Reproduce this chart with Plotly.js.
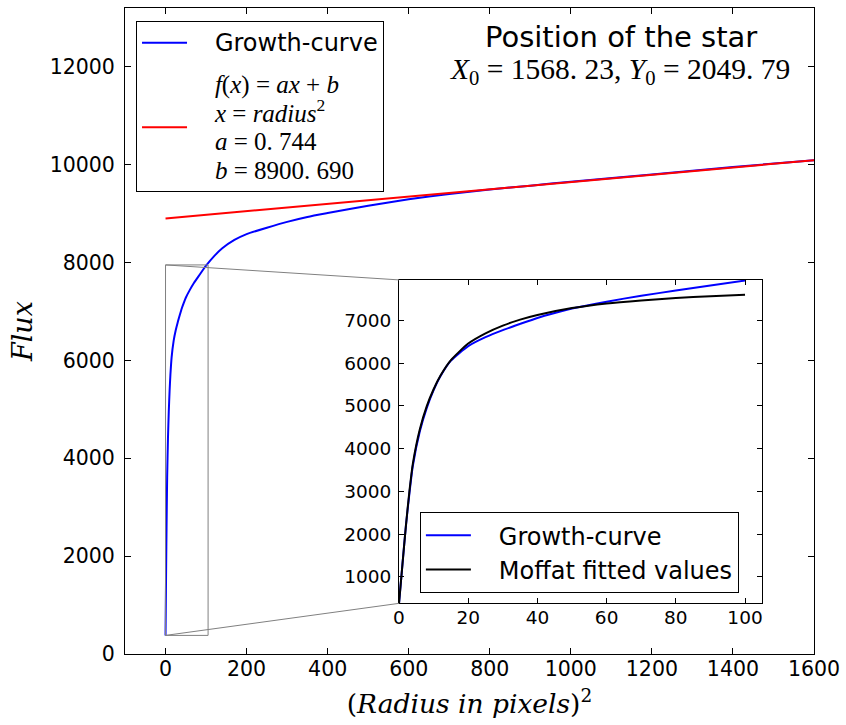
<!DOCTYPE html>
<html>
<head>
<meta charset="utf-8">
<script src="https://cdn.plot.ly/plotly-3.0.1.min.js"></script>
<style>html,body{margin:0;padding:0;background:#fff;}#chart{width:846px;height:725px;}</style>
</head>
<body>
<div id="chart"></div>
<script>
// ---- data ----
const growthX = [0, 1, 2, 3, 4, 6, 8, 10, 12, 15, 20, 25, 30, 35, 40, 45, 50, 60, 70, 80, 90, 100,
                 120, 140, 170, 200, 250, 300, 350, 400, 500, 600, 700, 800, 900, 1000, 1200, 1400, 1600];
const growthY = [380, 1300, 2200, 2950, 3600, 4400, 4950, 5370, 5700, 6060, 6400, 6610, 6775, 6920, 7060, 7175, 7280, 7440, 7580, 7700, 7820, 7935,
                 8130, 8290, 8460, 8580, 8710, 8830, 8930, 9010, 9160, 9290, 9400, 9490, 9570, 9650, 9800, 9950, 10090];
const fitX = [0, 1600];
const fitY = [8900.69, 10091.09];
const moffatX = [0, 1, 2, 3, 4, 6, 8, 10, 12, 15, 20, 25, 30, 35, 40, 50, 60, 70, 80, 90, 100];
const moffatY = [380, 1300, 2200, 3000, 3650, 4450, 4990, 5390, 5710, 6070, 6460, 6700, 6880, 7020, 7130, 7290, 7400, 7470, 7525, 7570, 7605];

const mainXRange = [-100, 1600];
const mainYRange = [0, 13200];
const mainXTicks = [0, 200, 400, 600, 800, 1000, 1200, 1400, 1600];
const mainYTicks = [0, 2000, 4000, 6000, 8000, 10000, 12000];
const mainYTickText = ['0', '2000', '4000', '6000', '8000', '10000', '12000'];
const insetXRange = [0, 105];
const insetYRange = [380, 7950];
const insetXTicks = [0, 20, 40, 60, 80, 100];
const insetYTicks = [1000, 2000, 3000, 4000, 5000, 6000, 7000];

// ---- layout ----
const insetDomX = [0.3977, 0.925];
const insetDomY = [0.0784, 0.5791];
const serif = "'Liberation Serif', 'DejaVu Serif', serif";
const serifWide = "'DejaVu Serif', serif";
const sans = "'DejaVu Sans', sans-serif";

const inset = growthX.map((x, i) => [x, growthY[i]]).filter(p => p[0] <= 100);
const pad = "<span style=\"font-family:'DejaVu Sans';font-size:24px\">&nbsp;&nbsp;&nbsp;</span>";
const m = s => pad + "<span style=\"font-family:'Liberation Serif';font-size:25px\">" + s + "</span>";

const traces = [
  {x: growthX, y: growthY, mode: 'lines', line: {color: '#0000ff', width: 2, shape: 'spline', smoothing: 0.6},
   name: pad + "<span style='font-size:24px'>Growth-curve</span>", xaxis: 'x', yaxis: 'y', legend: 'legend', legendgroup: 'g1'},
  {x: fitX, y: fitY, mode: 'lines', line: {color: '#ff0000', width: 2},
   name: m('<i>f</i>(<i>x</i>) = <i>ax</i> + <i>b</i>') + '<br>' +
         m('<i>x</i> = <i>radius</i><sup>2</sup>') + '<br>' +
         m('<i>a</i> = 0. 744') + '<br>' +
         m('<i>b</i> = 8900. 690'),
   xaxis: 'x', yaxis: 'y', legend: 'legend', legendgroup: 'g2'},
  {x: inset.map(p => p[0]), y: inset.map(p => p[1]), mode: 'lines', line: {color: '#0000ff', width: 2, shape: 'spline', smoothing: 0.6},
   name: pad + 'Growth-curve', xaxis: 'x2', yaxis: 'y2', legend: 'legend2'},
  {x: moffatX, y: moffatY, mode: 'lines', line: {color: '#000000', width: 2, shape: 'spline', smoothing: 0.6},
   name: pad + 'Moffat fitted values', xaxis: 'x2', yaxis: 'y2', legend: 'legend2'}
];

const xp = v => (v - mainXRange[0]) / (mainXRange[1] - mainXRange[0]);
const yp = v => (v - mainYRange[0]) / (mainYRange[1] - mainYRange[0]);

const axBase = {
  showline: true, linecolor: '#000', linewidth: 1, mirror: 'allticks',
  ticks: 'inside', ticklen: 6, tickwidth: 1, tickcolor: '#000',
  showgrid: false, zeroline: false,
  tickfont: {family: sans, size: 20.5, color: '#000'}
};

const layout = {
  width: 846, height: 725,
  margin: {l: 125, r: 32, t: 8, b: 71},
  paper_bgcolor: '#fff', plot_bgcolor: '#fff',
  showlegend: true,
  xaxis: Object.assign({}, axBase, {
    range: mainXRange, tickvals: mainXTicks, ticklabelstandoff: -4,
    title: {text: '(<i>Radius in pixels</i>)<sup>2</sup>', font: {family: serifWide, size: 26.5, color: '#000'}, standoff: 14}
  }),
  yaxis: Object.assign({}, axBase, {
    range: mainYRange, tickvals: mainYTicks, ticktext: mainYTickText, ticklabelstandoff: 5,
    title: {text: '<i>Flux</i>', font: {family: serifWide, size: 27, color: '#000'}, standoff: 9}
  }),
  xaxis2: Object.assign({}, axBase, {
    domain: insetDomX, anchor: 'y2', range: insetXRange, tickvals: insetXTicks, ticklen: 5,
    tickfont: {family: sans, size: 18.5, color: '#000'}, ticklabelstandoff: -3
  }),
  yaxis2: Object.assign({}, axBase, {
    domain: insetDomY, anchor: 'x2', range: insetYRange, tickvals: insetYTicks, ticklen: 5,
    tickfont: {family: sans, size: 18.5, color: '#000'}, ticklabelstandoff: 3
  }),
  legend: {
    x: 0.016, y: 0.98, xanchor: 'left', yanchor: 'top',
    bgcolor: '#fff', bordercolor: '#000', borderwidth: 1, itemwidth: 45,
    font: {family: sans, size: 22, color: '#000'}, tracegroupgap: 10
  },
  legend2: {
    x: 0.428, y: 0.2195, xanchor: 'left', yanchor: 'top',
    bgcolor: '#fff', bordercolor: '#000', borderwidth: 1, itemwidth: 45,
    font: {family: sans, size: 24, color: '#000'}, tracegroupgap: 0
  },
  shapes: [
    {type: 'rect', xref: 'x', yref: 'y', x0: insetXRange[0], x1: insetXRange[1], y0: insetYRange[0], y1: insetYRange[1],
     line: {color: '#808080', width: 1}, layer: 'above'},
    {type: 'line', xref: 'paper', yref: 'paper', x0: xp(insetXRange[0]), y0: yp(insetYRange[1]), x1: insetDomX[0], y1: insetDomY[1],
     line: {color: '#808080', width: 1}},
    {type: 'line', xref: 'paper', yref: 'paper', x0: xp(insetXRange[0]), y0: yp(insetYRange[0]), x1: insetDomX[0], y1: insetDomY[0],
     line: {color: '#808080', width: 1}}
  ],
  annotations: [
    {xref: 'paper', yref: 'paper', x: 0.72, y: 0.955, xanchor: 'center', yanchor: 'middle', showarrow: false,
     text: 'Position of the star', font: {family: sans, size: 29, color: '#000'}},
    {xref: 'paper', yref: 'paper', x: 0.719, y: 0.903, xanchor: 'center', yanchor: 'middle', showarrow: false,
     text: '<i>X</i><sub>0</sub> = 1568. 23, <i>Y</i><sub>0</sub> = 2049. 79', font: {family: serif, size: 29.5, color: '#000'}}
  ]
};

Plotly.newPlot('chart', traces, layout, {displayModeBar: false, staticPlot: true});
</script>
</body>
</html>
